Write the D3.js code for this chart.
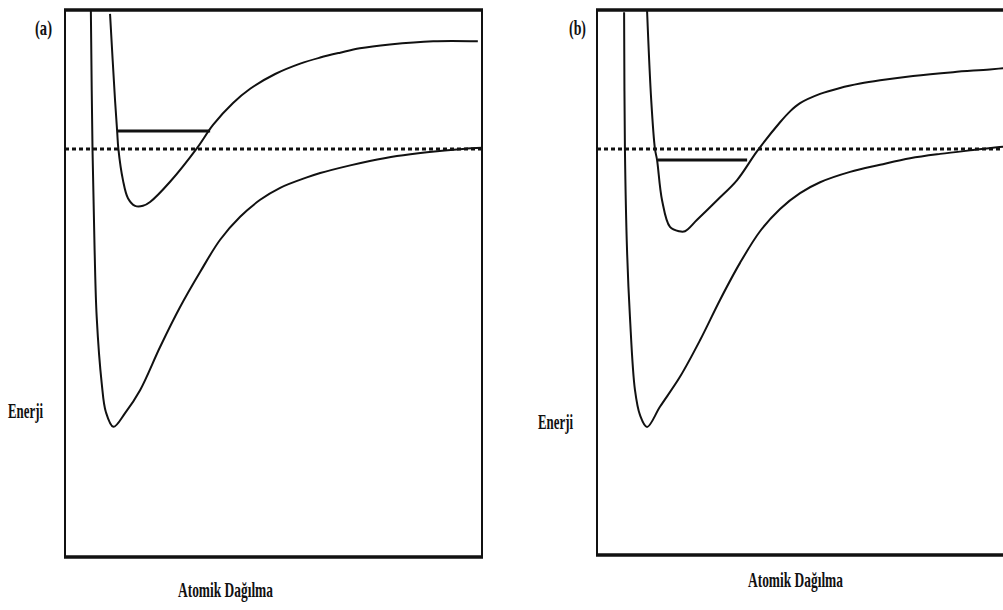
<!DOCTYPE html>
<html>
<head>
<meta charset="utf-8">
<script src="https://cdn.jsdelivr.net/npm/d3@7"></script>
<style>
  body { margin: 0; background: #fff; }
  svg { display: block; }
</style>
</head>
<body>
<script>
// axis labels
var panelLabels = ["(a)", "(b)"];
var yLabel = "Enerji";
var xLabel = "Atomik Dağılma";

// panel (a) curves, x = distance (0-100), y = energy (0-100)
var groundA = [[6.2,100],[6.6,74.4],[7.1,56.1],[7.6,43.9],[8.8,31.8],[9.8,26.5],[11.6,23.8],
  [14.4,26.3],[18.0,30.5],[22.8,38.4],[27.6,45.7],[32.4,52.1],[37.2,58.0],[42.0,62.2],
  [46.8,65.3],[51.6,67.5],[58.0,69.4],[61.2,70.2],[68.4,71.6],[73.1,72.4],[79.6,73.3],
  [86.8,74.0],[95.4,74.6],[100,74.8]];
var excitedA = [[10.8,99.3],[12.0,83.5],[12.5,77.9],[12.8,74.6],[13.9,68.9],[15.1,65.6],
  [16.8,64.2],[18.7,64.2],[20.4,64.9],[25.2,68.6],[31.7,74.8],[35.5,79.0],[40.3,83.0],
  [44.4,85.6],[50.4,88.3],[56.4,90.2],[61.2,91.3],[66.0,92.2],[70.7,93.0],[77.9,93.7],
  [88.3,94.3],[99.0,94.3]];
var levelA = [12.5, 34.8, 77.9];   // x1, x2, energy
var dissocA = 74.6;                // dotted line

// panel (b)
var groundB = [[6.5,99.6],[6.7,74.3],[7.2,56.0],[7.9,43.7],[9.1,30.3],[10.3,25.7],[12.0,23.5],
  [15.1,27.2],[19.9,32.7],[24.7,39.4],[29.5,46.8],[34.3,53.6],[39.1,59.4],[43.9,63.5],
  [48.7,66.4],[53.5,68.4],[60.7,70.3],[67.9,71.6],[75.1,72.8],[82.3,73.6],[90.2,74.3],
  [97.4,74.9],[100,75.0]];
var excitedB = [[12.0,100],[13.0,83.5],[13.9,74.5],[14.4,72.5],[15.6,65.1],[17.5,60.2],
  [19.7,59.4],[21.1,59.4],[24.0,61.5],[28.8,65.1],[33.6,68.8],[38.4,74.1],[43.9,79.4],
  [46.3,81.4],[48.7,82.9],[53.5,84.6],[58.3,85.7],[63.1,86.5],[67.9,87.1],[75.8,87.9],
  [85.4,88.6],[94.2,89.1],[100,89.5]];
var levelB = [14.6, 36.0, 72.5];
var dissocB = 74.5;

var w = 1003;
var h = 610;

var svg = d3.select("body")
            .append("svg")
            .attr("width", w)
            .attr("height", h);

function drawPanel(p) {
  var xScale = d3.scaleLinear().domain([0, 100]).range([p.left, p.left + 417]);
  var yScale = d3.scaleLinear().domain([0, 100]).range([p.bottom, 10]);

  var g = svg.append("g");

  var line = d3.line()
               .x(function(d) { return xScale(d[0]); })
               .y(function(d) { return yScale(d[1]); })
               .curve(d3.curveCatmullRom.alpha(0.5));

  // dotted dissociation line
  g.append("line")
   .attr("x1", xScale(0)).attr("x2", xScale(100))
   .attr("y1", yScale(p.dissoc)).attr("y2", yScale(p.dissoc))
   .attr("stroke", "#111")
   .attr("stroke-width", 3)
   .attr("stroke-dasharray", "4,3");

  g.selectAll("path.curve")
   .data([p.ground, p.excited])
   .enter()
   .append("path")
   .attr("class", "curve")
   .attr("d", line)
   .attr("fill", "none")
   .attr("stroke", "#111")
   .attr("stroke-width", 2);

  // vibrational level
  g.append("line")
   .attr("x1", xScale(p.level[0])).attr("x2", xScale(p.level[1]))
   .attr("y1", yScale(p.level[2])).attr("y2", yScale(p.level[2]))
   .attr("stroke", "#111")
   .attr("stroke-width", 3);

  // frame
  g.append("line")
   .attr("x1", xScale(0) - 1).attr("x2", xScale(100) + 1)
   .attr("y1", yScale(100)).attr("y2", yScale(100))
   .attr("stroke", "#111").attr("stroke-width", 3.5);
  g.append("line")
   .attr("x1", xScale(0) - 1).attr("x2", xScale(100) + 1)
   .attr("y1", yScale(0)).attr("y2", yScale(0))
   .attr("stroke", "#111").attr("stroke-width", 3.5);
  g.selectAll("line.side")
   .data([0, 100])
   .enter()
   .append("line")
   .attr("class", "side")
   .attr("x1", function(d) { return xScale(d); })
   .attr("x2", function(d) { return xScale(d); })
   .attr("y1", yScale(100)).attr("y2", yScale(0))
   .attr("stroke", "#111").attr("stroke-width", 2);

  // texts
  var texts = [
    { t: p.name, x: p.nameX, y: 35, len: 17, size: 21 },
    { t: yLabel, x: p.yLabX, y: p.yLabY, len: 35, size: 22 },
    { t: xLabel, x: p.xLabX, y: p.xLabY, len: 95, size: 22 }
  ];
  g.selectAll("text")
   .data(texts)
   .enter()
   .append("text")
   .text(function(d) { return d.t; })
   .attr("x", function(d) { return d.x; })
   .attr("y", function(d) { return d.y; })
   .attr("textLength", function(d) { return d.len; })
   .attr("lengthAdjust", "spacingAndGlyphs")
   .attr("font-family", "'Liberation Serif', 'DejaVu Serif', serif")
   .attr("font-weight", "bold")
   .attr("font-size", function(d) { return d.size + "px"; })
   .attr("fill", "#111");
}

drawPanel({ left: 65, bottom: 557, name: panelLabels[0], nameX: 35,
            ground: groundA, excited: excitedA, level: levelA, dissoc: dissocA,
            yLabX: 8, yLabY: 418, xLabX: 178, xLabY: 597 });
drawPanel({ left: 597, bottom: 555, name: panelLabels[1], nameX: 569,
            ground: groundB, excited: excitedB, level: levelB, dissoc: dissocB,
            yLabX: 538, yLabY: 429, xLabX: 748, xLabY: 587 });
</script>
</body>
</html>
